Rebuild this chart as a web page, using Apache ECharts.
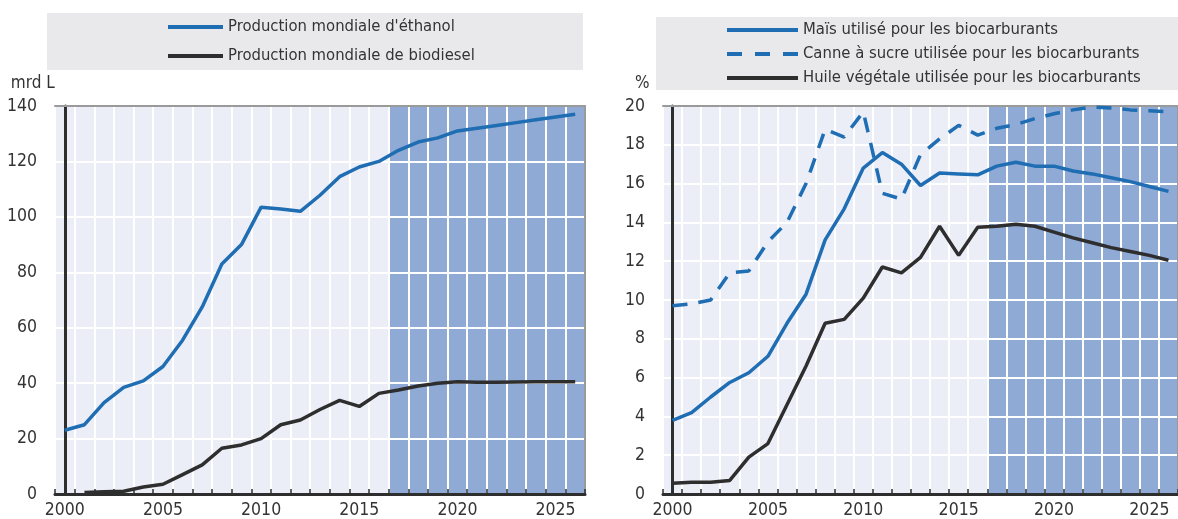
<!DOCTYPE html>
<html><head><meta charset="utf-8">
<script src="https://cdn.jsdelivr.net/npm/echarts@6/dist/echarts.min.js"></script>
<style>html,body{margin:0;padding:0;background:#fff}#c{width:1178px;height:519px}</style>
</head><body><div id="c"></div>
<script>
// ---- data ----
const years = ['2000','2001','2002','2003','2004','2005','2006','2007','2008','2009','2010','2011','2012','2013','2014','2015','2016','2017','2018','2019','2020','2021','2022','2023','2024','2025','2026'];
const projectionStart = '2017';
const ethanol   = [23, 25, 33, 38.5, 40.8, 46, 55.5, 67.5, 83, 90, 103.5, 102.8, 102, 107.8, 114.5, 118, 120, 124, 127, 128.5, 131, 132, 133, 134, 135, 136, 137];
const biodiesel = [null, 0.5, 0.8, 1.0, 2.5, 3.5, 7, 10.5, 16.5, 17.7, 20, 25, 26.7, 30.5, 33.8, 31.6, 36.3, 37.5, 39, 40, 40.5, 40.3, 40.3, 40.4, 40.5, 40.5, 40.5];
const maize     = [3.8, 4.2, 5.0, 5.75, 6.25, 7.1, 8.8, 10.3, 13.1, 14.7, 16.8, 17.6, 17.0, 15.9, 16.55, 16.5, 16.45, 16.9, 17.1, 16.9, 16.9, 16.65, 16.5, 16.3, 16.1, 15.85, 15.6];
const sugarcane = [9.7, 9.8, 10.0, 11.4, 11.5, 13.0, 14.0, 16.0, 18.8, 18.4, 19.7, 15.5, 15.2, 17.5, 18.3, 19.0, 18.5, 18.85, 19.05, 19.35, 19.6, 19.8, 19.95, 19.9, 19.8, 19.75, 19.7];
const vegoil    = [0.55, 0.6, 0.6, 0.7, 1.9, 2.6, 4.6, 6.6, 8.8, 9.0, 10.1, 11.7, 11.4, 12.2, 13.8, 12.3, 13.75, 13.8, 13.9, 13.8, 13.5, 13.2, 12.95, 12.7, 12.5, 12.3, 12.05];
const leftNames  = ["Production mondiale d'éthanol", 'Production mondiale de biodiesel'];
const rightNames = ['Maïs utilisé pour les biocarburants', 'Canne à sucre utilisée pour les biocarburants', 'Huile végétale utilisée pour les biocarburants'];
const leftUnit = 'mrd L';
const rightUnit = '%';
const leftScale  = {min: 0, max: 140, interval: 20};
const rightScale = {min: 0, max: 20, interval: 2};

// ---- style ----
const FONT = "'DejaVu Sans Condensed','Liberation Sans Narrow',sans-serif";
const TXT = '#333333';
const BLUE = '#1f6db2';
const DARK = '#2e2e2e';
const PLOTBG = '#eceef7';
const SHADE = '#8faad4';
const BORDER = '#9a9a9a';
const DASH = [15, 11];
const DASH_ICON = 'path://M0,0H15V4H0Z M28,0H43V4H28Z M56,0H71V4H56Z';

const shadeFrom = years.indexOf(projectionStart) - 0.5;
const shadeTo = years.length - 0.5;

function catAxis(gi) {
  return {
    type: 'category', gridIndex: gi, data: years, boundaryGap: true, z: 2,
    axisLine: {show: true, lineStyle: {color: DARK, width: 3}},
    axisTick: {show: true, inside: true, length: 5, interval: 0, lineStyle: {color: DARK, width: 1.5}},
    axisLabel: {interval: 4, margin: 7, fontSize: 17.5, color: TXT, fontFamily: FONT},
    splitLine: {show: true, interval: 0, lineStyle: {color: '#ffffff', width: 2}}
  };
}
function topAxis(gi) {
  return {
    type: 'value', gridIndex: gi, position: 'top', min: -0.5, max: years.length - 0.5, z: 2,
    axisLine: {show: true, onZero: false, lineStyle: {color: BORDER, width: 2}},
    axisTick: {show: false}, axisLabel: {show: false}, splitLine: {show: false}
  };
}
function valAxis(gi, sc, unit, namePad) {
  return {
    type: 'value', gridIndex: gi, min: sc.min, max: sc.max, interval: sc.interval, z: 2,
    name: unit, nameLocation: 'end', nameGap: 14,
    nameTextStyle: {align: 'right', fontSize: 17, color: TXT, fontFamily: FONT, padding: namePad},
    axisLine: {show: true, lineStyle: {color: DARK, width: 3}},
    axisTick: {show: false},
    axisLabel: {margin: 18, fontSize: 17.5, color: TXT, fontFamily: FONT},
    splitLine: {show: true, lineStyle: {color: '#ffffff', width: 2}}
  };
}
function rightBorderAxis(gi, sc) {
  return {
    type: 'value', gridIndex: gi, position: 'right', min: sc.min, max: sc.max, z: 2,
    axisLine: {show: true, lineStyle: {color: BORDER, width: 2}},
    axisTick: {show: false}, axisLabel: {show: false}, splitLine: {show: false}
  };
}
function shadeSeries(xi, yi) {
  return {
    type: 'line', xAxisIndex: xi, yAxisIndex: yi, data: [], z: 1, silent: true,
    markArea: {silent: true, itemStyle: {color: SHADE}, data: [[{xAxis: shadeFrom}, {xAxis: shadeTo}]]}
  };
}
function lineSeries(name, data, xi, yi, color, dashed) {
  return {
    type: 'line', name: name, data: data, xAxisIndex: xi, yAxisIndex: yi, z: 3,
    symbol: 'none', showSymbol: false, smooth: false, connectNulls: false,
    lineStyle: {color: color, width: 3.5, type: dashed ? DASH : 'solid'},
    itemStyle: {color: color}
  };
}
function legendItems(names, dashedIdx) {
  return names.map((n, i) => ({name: n, icon: i === dashedIdx ? DASH_ICON : 'rect'}));
}
const legendText = {fontSize: 16.5, lineHeight: 18, color: TXT, fontFamily: FONT};

const option = {
  backgroundColor: '#ffffff',
  animation: false,
  textStyle: {fontFamily: FONT},
  graphic: [
    {type: 'rect', left: 47, top: 13, shape: {width: 536, height: 57}, style: {fill: '#e9e9eb'}, silent: true, z: -1},
    {type: 'rect', left: 656, top: 17, shape: {width: 530, height: 73}, style: {fill: '#e9e9eb'}, silent: true, z: -1}
  ],
  legend: [
    {data: legendItems(leftNames, -1), orient: 'vertical', left: 163, top: 13, itemWidth: 55, itemHeight: 4, itemGap: 11,
     textStyle: legendText, selectedMode: false},
    {data: legendItems(rightNames, 1), orient: 'vertical', left: 722, top: 16, itemWidth: 71, itemHeight: 4, itemGap: 6,
     textStyle: legendText, selectedMode: false}
  ],
  grid: [
    {left: 55, top: 106, right: 593, bottom: 23, show: true, backgroundColor: PLOTBG, borderWidth: 0},
    {left: 663, top: 106, right: -11, bottom: 23, show: true, backgroundColor: PLOTBG, borderWidth: 0}
  ],
  xAxis: [catAxis(0), topAxis(0), catAxis(1), topAxis(1)],
  yAxis: [
    valAxis(0, leftScale, leftUnit, [0, 10, 0, 0]),
    rightBorderAxis(0, leftScale),
    valAxis(1, rightScale, rightUnit, [0, 23, 0, 0]),
    rightBorderAxis(1, rightScale)
  ],
  series: [
    shadeSeries(1, 0),
    shadeSeries(3, 2),
    lineSeries(leftNames[0], ethanol, 0, 0, BLUE, false),
    lineSeries(leftNames[1], biodiesel, 0, 0, DARK, false),
    lineSeries(rightNames[0], maize, 2, 2, BLUE, false),
    lineSeries(rightNames[1], sugarcane, 2, 2, BLUE, true),
    lineSeries(rightNames[2], vegoil, 2, 2, DARK, false)
  ]
};
const chart = echarts.init(document.getElementById('c'), null, {renderer: 'canvas'});
chart.setOption(option);
</script>
</body></html>
